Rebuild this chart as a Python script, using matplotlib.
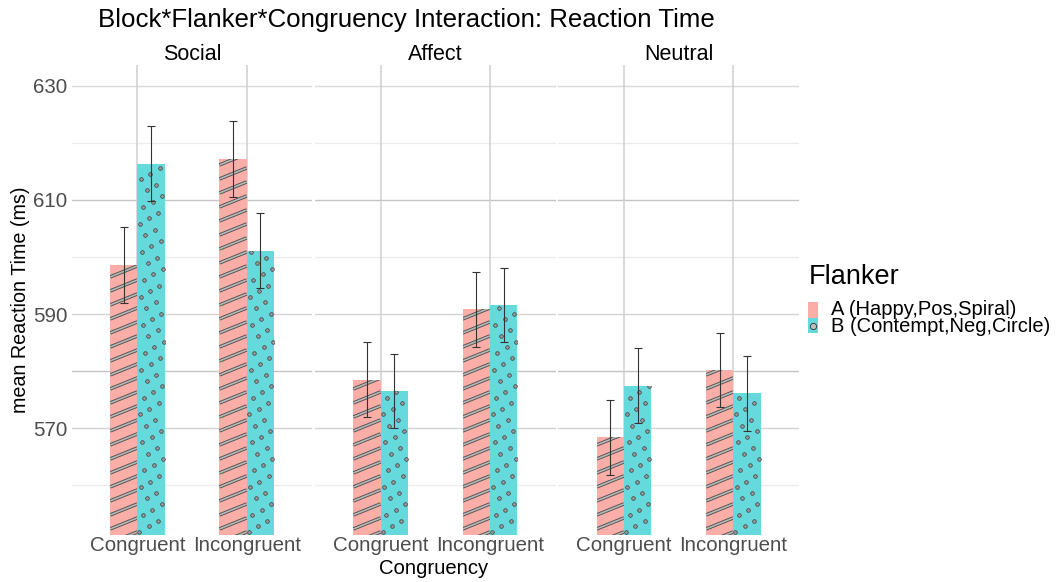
import numpy as np
import matplotlib
matplotlib.use("Agg")
import matplotlib.pyplot as plt
from matplotlib.patches import Rectangle

plt.rcParams['font.family'] = ['Liberation Sans', 'DejaVu Sans']

# data
blocks = ['Social', 'Affect', 'Neutral']
congruency = ['Congruent', 'Incongruent']
flanker_labels = ['A (Happy,Pos,Spiral)', 'B (Contempt,Neg,Circle)']
mean_a = {'Social': [598.6, 617.2], 'Affect': [578.5, 590.8], 'Neutral': [568.4, 580.1]}
mean_b = {'Social': [616.4, 601.1], 'Affect': [576.5, 591.6], 'Neutral': [577.4, 576.1]}
se_a = {'Social': [6.6, 6.6], 'Affect': [6.6, 6.6], 'Neutral': [6.6, 6.5]}
se_b = {'Social': [6.5, 6.6], 'Affect': [6.5, 6.5], 'Neutral': [6.6, 6.6]}
yticks = [570, 590, 610, 630]

col_a = '#FBADA7'
col_b = '#66D9DC'

W, H = 1061, 582
fig = plt.figure(figsize=(W / 100, H / 100), dpi=100)

panel_left = [71.9, 315.1, 558.4]
panel_w = 240.5
panel_top, panel_bot = 64.6, 534.9
ylo, yhi = 551.25, 633.75
xlo, xhi = 0.4, 2.6
px_x = panel_w / (xhi - xlo)          # pixels per x unit
px_y = (panel_bot - panel_top) / (yhi - ylo)  # pixels per y unit

# grid colours (as they render in the reference)
hgrid = {560: '#ececec', 570: '#d4d4d4', 580: '#c4c4c4', 590: '#d4d4d4',
         600: '#ececec', 610: '#c4c4c4', 620: '#ececec', 630: '#dadada'}

bw = 0.25


def stripes(ax, x0, top):
    # diagonal stripe pattern for flanker A, clipped to the bar
    clip = Rectangle((x0, ylo), bw, top - ylo, transform=ax.transData)
    ang = np.tan(np.radians(22))
    wpx = bw * px_x
    spacing = 14.0
    hpx = (top - ylo) * px_y
    k = -wpx * ang + 3
    while k < hpx + spacing:
        xs = np.array([x0, x0 + bw])
        ys = ylo + (k + np.array([0, wpx * ang])) / px_y
        for lw, c in [(2.5, '#505050'), (1.2, '#b8b8b8')]:
            ln, = ax.plot(xs, ys, color=c, lw=lw, solid_capstyle='butt', zorder=3)
            ln.set_clip_path(clip)
        k += spacing


def dots(ax, x0, top):
    # circle pattern for flanker B, clipped to the bar
    clip = Rectangle((x0, ylo), bw, top - ylo, transform=ax.transData)
    wpx = bw * px_x
    hpx = (top - ylo) * px_y
    xs, ys = [], []
    n = 0
    ypx = 3.0
    while ypx < hpx:
        xp = 2.0 + ((n * 0.382) % 1.0) * (wpx - 3.0)
        xs.append(x0 + xp / px_x)
        ys.append(ylo + ypx / px_y)
        n += 1
        ypx += 5.6
    m, = ax.plot(xs, ys, 'o', ms=2.6, mfc='#9a9a9a', mec='#3a3a3a', mew=0.5, zorder=3)
    m.set_clip_path(clip)


for i, blk in enumerate(blocks):
    ax = fig.add_axes([panel_left[i] / W, 1 - panel_bot / H, panel_w / W, (panel_bot - panel_top) / H])
    ax.set_xlim(xlo, xhi)
    ax.set_ylim(ylo, yhi)
    for v, c in hgrid.items():
        ax.axhline(v, color=c, lw=1.0, zorder=0)
    for x in [1, 2]:
        ax.axvline(x, color='#cfcfcf', lw=1.1, zorder=0)
    xpos = np.arange(1, len(congruency) + 1)
    ax.bar(xpos - bw / 2, np.array(mean_a[blk]) - ylo, bottom=ylo, width=bw, color=col_a, zorder=2)
    ax.bar(xpos + bw / 2, np.array(mean_b[blk]) - ylo, bottom=ylo, width=bw, color=col_b, zorder=2)
    for j in range(len(congruency)):
        stripes(ax, xpos[j] - bw, mean_a[blk][j])
        dots(ax, xpos[j], mean_b[blk][j])
    ax.errorbar(xpos - bw / 2, mean_a[blk], yerr=se_a[blk], fmt='none', ecolor='#333333',
                elinewidth=0.8, capsize=3, capthick=0.8, zorder=4)
    ax.errorbar(xpos + bw / 2, mean_b[blk], yerr=se_b[blk], fmt='none', ecolor='#333333',
                elinewidth=0.8, capsize=3, capthick=0.8, zorder=4)
    for s in ax.spines.values():
        s.set_visible(False)
    ax.set_xticks(xpos)
    ax.set_xticklabels(congruency, fontsize=14.8, color='#4d4d4d')
    ax.tick_params(length=0, pad=1)
    ax.set_yticks(yticks)
    if i == 0:
        ax.set_yticklabels([str(t) for t in yticks], fontsize=14.8, color='#4d4d4d')
        ax.tick_params(axis='y', pad=3)
    else:
        ax.set_yticklabels([])
    ax.set_title(blk, fontsize=15.5, pad=3)

fig.text(406 / W, 1 - 20 / H, 'Block*Flanker*Congruency Interaction: Reaction Time',
         ha='center', va='center', fontsize=18.6)
fig.text(434 / W, 1 - 568 / H, 'Congruency', ha='center', va='center', fontsize=14.6)
fig.text(21 / W, 1 - 300 / H, 'mean Reaction Time (ms)', ha='center', va='center',
         rotation=90, fontsize=14.2)

# legend
fig.text(809 / W, 1 - 277 / H, 'Flanker', ha='left', va='center', fontsize=19.5)
fig.add_artist(Rectangle((808 / W, 1 - 318 / H), 10 / W, 16 / H, transform=fig.transFigure,
                         facecolor=col_a, edgecolor='none'))
fig.add_artist(Rectangle((808 / W, 1 - 333 / H), 10 / W, 15 / H, transform=fig.transFigure,
                         facecolor=col_b, edgecolor='none'))
fig.lines.append(plt.Line2D([813 / W], [1 - 325.5 / H], marker='o', ms=4.5, mfc='#bdbdbd',
                            mec='#333333', mew=0.6, transform=fig.transFigure))
fig.text(831 / W, 1 - 318 / H, '\n'.join(flanker_labels), ha='left', va='center',
         fontsize=14.5, linespacing=0.82)

fig.savefig('out.png', dpi=100, facecolor='white')
